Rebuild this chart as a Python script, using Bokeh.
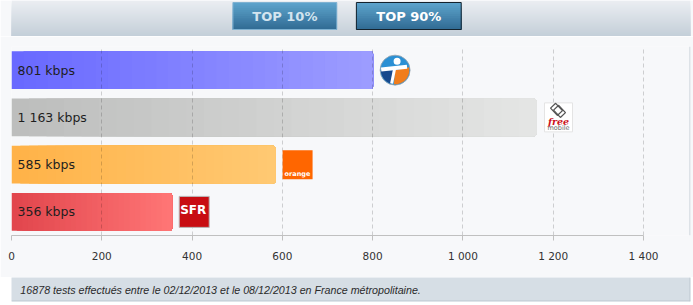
import math
from bokeh.plotting import figure
from bokeh.models import Range1d, FixedTicker, CustomJSTickFormatter, Span
from bokeh.layouts import column
from bokeh.embed import file_html
from bokeh.resources import INLINE
from bokeh.core.properties import value

# ---------------- data ----------------
operators = ["Bouygues Telecom", "Free Mobile", "Orange", "SFR"]
speeds_kbps = [801, 1163, 585, 356]
x_ticks = [0, 200, 400, 600, 800, 1000, 1200, 1400]
buttons = ["TOP 10%", "TOP 90%"]
footnote = "16878 tests effectués entre le 02/12/2013 et le 08/12/2013 en France métropolitaine."

# ---------------- styles ----------------
bar_start_colors = ["#6868ff", "#bcbdbc", "#ffb247", "#e1454c"]
bar_end_colors = ["#9d9dff", "#e5e6e5", "#ffc973", "#ff7676"]
FONT = "DejaVu Sans"
W = 693
HEADER_H, MAIN_H, FOOT_H = 36, 241, 28


def hex2rgb(h):
    h = h.lstrip("#")
    return tuple(int(h[i:i + 2], 16) for i in (0, 2, 4))


def mix(c1, c2, t):
    a, b = hex2rgb(c1), hex2rgb(c2)
    return "#%02x%02x%02x" % tuple(int(round(a[i] + (b[i] - a[i]) * t)) for i in range(3))


def fmt(n):
    return f"{n:,}".replace(",", " ")


# ---------------- header ----------------
header = figure(width=W, height=HEADER_H, x_range=Range1d(0, W), y_range=Range1d(HEADER_H, 0),
                output_backend="svg", toolbar_location=None,
                x_axis_location=None, y_axis_location=None,
                min_border_left=0, min_border_right=0, min_border_top=0, min_border_bottom=0)
header.grid.visible = False
header.outline_line_color = None
header.background_fill_color = "#f7f8fa"
header.border_fill_color = "#f7f8fa"

NS = 18
header.quad(left=[0] * NS, right=[W] * NS,
            top=[HEADER_H * i / NS for i in range(NS)], bottom=[HEADER_H] * NS,
            fill_color=[mix("#ebeef2", "#c3ced8", (i + 0.5) / NS) for i in range(NS)],
            line_color=None)

btn_left = [226, 352]
btn_right = [332, 459]
btn_top, btn_bottom = 2, 29
NB = 14
for k in range(len(buttons)):
    header.quad(left=[btn_left[k]] * NB, right=[btn_right[k]] * NB,
                top=[btn_top + (btn_bottom - btn_top) * i / NB for i in range(NB)],
                bottom=[btn_bottom] * NB,
                fill_color=[mix("#5ea4cd", "#306b93", (i + 0.5) / NB) for i in range(NB)],
                line_color=None)
header.quad(left=btn_left, right=btn_right, top=[btn_top] * 2, bottom=[btn_bottom] * 2,
            fill_color=None, line_color=["#7fb2d2", "#14222d"], line_width=1)
header.text(x=[(a + b) / 2 for a, b in zip(btn_left, btn_right)], y=[15.5] * 2, text=buttons,
            text_align="center", text_baseline="middle",
            text_font=value(FONT), text_font_style="bold", text_font_size="13px",
            text_color=["#d3e4ef", "#ffffff"])

# ---------------- main chart ----------------
ppu = 632 / 1400.0          # pixels per kbps
frame_w = 693 - 11 - 3
x_end = frame_w / ppu
n = len(operators)
ypos = [n - 1 - i for i in range(n)]
py = 1 / 47.25              # y units per pixel
px = 1 / ppu                # x units per pixel

p = figure(width=W, height=MAIN_H, x_range=Range1d(0, x_end), y_range=Range1d(-0.5, n - 0.5),
           output_backend="svg", toolbar_location=None, y_axis_location=None,
           min_border_left=11, min_border_right=3, min_border_top=10, min_border_bottom=42)
p.background_fill_color = "#f7f8fa"
p.border_fill_color = "#f7f8fa"
p.outline_line_color = None
p.ygrid.visible = False
p.xgrid.ticker = FixedTicker(ticks=x_ticks)
p.xgrid.grid_line_color = "#000000"
p.xgrid.grid_line_alpha = 0.17
p.xgrid.grid_line_dash = "4 3"

# gradient bars
NG = 30
for i in range(n):
    v = speeds_kbps[i]
    p.hbar(y=[ypos[i]] * NG, height=0.8,
           left=[v * k / NG for k in range(NG)], right=[v] * NG,
           fill_color=[mix(bar_start_colors[i], bar_end_colors[i], (k + 0.5) / NG) for k in range(NG)],
           line_color=None, border_radius=(0, 3, 3, 0), level="image")

p.text(x=[0] * n, y=ypos, text=[fmt(v) + " kbps" for v in speeds_kbps],
       x_offset=6, text_baseline="middle", text_align="left",
       text_font=value(FONT), text_font_size="12.5px", text_color="#1e1e1e")

logo_x = [v + 22 * px for v in speeds_kbps]


def sector(cx, cy, r_px, a0, a1, steps=16):
    xs, ys = [cx], [cy]
    for s in range(steps + 1):
        a = math.radians(a0 + (a1 - a0) * s / steps)
        xs.append(cx + r_px * math.cos(a) * px)
        ys.append(cy + r_px * math.sin(a) * py)
    return xs, ys


# Bouygues Telecom logo
bx, by = logo_x[0], ypos[0]
p.scatter(x=[bx], y=[by], size=30, marker="circle", fill_color="#2b90d4",
          line_color="#9aa4ad", line_width=0.8)
ox_s, oy_s = sector(bx, by, 14.2, -95, 12)
p.patch(x=ox_s, y=oy_s, fill_color="#f07d1c", line_color=None)
nx_s, ny_s = sector(bx, by, 14.2, 182, 252)
p.patch(x=nx_s, y=ny_s, fill_color="#17498c", line_color=None)
p.rect(x=[bx - 1 * px], y=[by + 2 * py], width=26, height=4, width_units="screen",
       height_units="screen", angle=0.1, fill_color="#ffffff", line_color=None)
p.rect(x=[bx - 2 * px], y=[by - 6 * py], width=3, height=15, width_units="screen",
       height_units="screen", angle=-0.2, fill_color="#ffffff", line_color=None)
p.scatter(x=[bx + 2 * px], y=[by + 9 * py], size=7, marker="circle",
          fill_color="#ffffff", line_color=None)

# Free mobile logo
fx, fy = logo_x[1], ypos[1]
p.rect(x=[fx], y=[fy], width=28, height=29, width_units="screen", height_units="screen",
       fill_color="#ffffff", line_color="#e4e4e4")
p.rect(x=[fx - 2 * px, fx + 1 * px], y=[fy + 8 * py, fy + 6 * py], width=7, height=10,
       width_units="screen", height_units="screen", angle=0.75,
       fill_color=None, line_color="#555555", line_width=1.3)
p.text(x=[fx], y=[fy], text=["free"], y_offset=4, text_align="center", text_baseline="middle",
       text_font=value("DejaVu Serif"), text_font_style="bold italic", text_font_size="9.5px",
       text_color="#cc1222")
p.text(x=[fx], y=[fy], text=["mobile"], y_offset=11, text_align="center", text_baseline="middle",
       text_font=value(FONT), text_font_size="6.5px", text_color="#666666")

# Orange logo
ox, oy = logo_x[2], ypos[2]
p.rect(x=[ox], y=[oy], width=30, height=29, width_units="screen", height_units="screen",
       fill_color="#ff6600", line_color=None)
p.text(x=[ox], y=[oy], text=["orange"], x_offset=-13, y_offset=9, text_align="left",
       text_baseline="middle", text_font=value(FONT), text_font_style="bold",
       text_font_size="6.5px", text_color="#ffffff")

# SFR logo
sx, sy = logo_x[3], ypos[3]
p.rect(x=[sx], y=[sy], width=30, height=31, width_units="screen", height_units="screen",
       fill_color="#c80d12", line_color="#b9b9b9")
p.text(x=[sx], y=[sy], text=["SFR"], x_offset=-1, y_offset=-2, text_align="center",
       text_baseline="middle", text_font=value(FONT), text_font_style="bold",
       text_font_size="12px", text_color="#ffffff")

# axis
p.xaxis.ticker = FixedTicker(ticks=x_ticks)
p.xaxis.bounds = (0, 1400)
p.xaxis.formatter = CustomJSTickFormatter(
    code="return tick.toString().replace(/\\B(?=(\\d{3})+(?!\\d))/g, ' ');")
p.xaxis.axis_line_color = "#c0c0c0"
p.xaxis.major_tick_line_color = "#c0c0c0"
p.xaxis.major_tick_in = 0
p.xaxis.major_tick_out = 5
p.xaxis.minor_tick_line_color = None
p.xaxis.major_label_standoff = 9
p.xaxis.major_label_text_font = FONT
p.xaxis.major_label_text_font_size = "10.5px"
p.xaxis.major_label_text_color = "#333333"

p.add_layout(Span(location=678.5 * px, dimension="height", line_color="#c3ccd4", line_width=1))

# ---------------- footer ----------------
footer = figure(width=W, height=FOOT_H, x_range=Range1d(0, 690), y_range=Range1d(0, 24),
                output_backend="svg", toolbar_location=None,
                x_axis_location=None, y_axis_location=None,
                min_border_left=0, min_border_right=3, min_border_top=0, min_border_bottom=4)
footer.grid.visible = False
footer.outline_line_color = None
footer.background_fill_color = "#d6dee5"
footer.border_fill_color = "#ffffff"
footer.text(x=[9], y=[12], text=[footnote], text_baseline="middle", text_align="left",
            text_font=value("Liberation Sans"), text_font_style="italic",
            text_font_size="10.7px", text_color="#2b2b2b")
footer.add_layout(Span(location=689.5, dimension="height", line_color="#bcc6cf", line_width=1))
footer.add_layout(Span(location=0.5, dimension="width", line_color="#bcc6cf", line_width=1))

layout = column(header, p, footer, spacing=0)
open("out.html", "w").write(file_html(layout, INLINE))
